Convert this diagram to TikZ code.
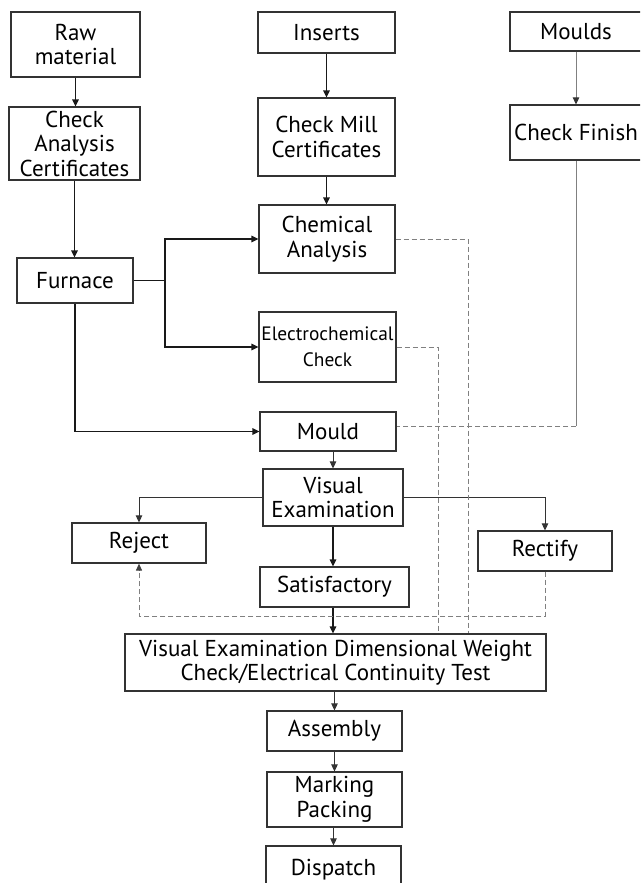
\documentclass[tikz,border=0pt]{standalone}
\usepackage{fontspec}
\setmainfont{PT Sans}
\usetikzlibrary{arrows.meta}
\begin{document}
\begin{tikzpicture}[x=1pt,y=-1pt,
  box/.style={draw=black!80, line width=1.2pt, align=center, inner sep=0pt, text=black, font=\fontsize{23}{24.5}\selectfont},
  arr/.style={line width=1.4pt, draw=black!90, -{Triangle[length=7pt,width=6.5pt]}},
  tarr/.style={line width=1pt, draw=black!80, -{Triangle[length=7pt,width=6.5pt]}},
  ln/.style={line width=1.4pt, draw=black!90},
  gline/.style={line width=1pt, draw=black!50},
  dsh/.style={line width=1pt, draw=black!50, dash pattern=on 5pt off 3pt},
  darr/.style={dsh, -{Triangle[length=7pt,width=6pt,color=black!75,fill=black!75]}}]
\clip (0,0) rectangle (640,883);
% left column
\node[box, minimum width=129pt, minimum height=65pt] (raw) at (75.5,44.5) {Raw\\material};
\node[box, minimum width=131pt, minimum height=73pt] (cac) at (74.5,143.5) {Check\\Analysis\\Certificates};
\node[box, minimum width=116pt, minimum height=45pt] (furnace) at (75,280.5) {Furnace};
% middle column
\node[box, minimum width=137pt, minimum height=41pt] (inserts) at (326.5,32.5) {Inserts};
\node[box, minimum width=137pt, minimum height=78pt] (cmc) at (326.5,137) {Check Mill\\Certificates};
\node[box, minimum width=136pt, minimum height=68pt] (chem) at (327,239) {Chemical\\Analysis};
\node[box, minimum width=137pt, minimum height=70pt, font=\fontsize{19.4}{26}\selectfont] (elec) at (327.5,347) {Electrochemical\\Check};
\node[box, minimum width=136pt, minimum height=39pt] (mould) at (328,431.5) {Mould};
\node[box, minimum width=140pt, minimum height=57pt] (vis) at (333,497.5) {Visual\\Examination};
\node[box, minimum width=149pt, minimum height=40pt] (sat) at (334.5,587) {Satisfactory};
\node[box, minimum width=421pt, minimum height=57pt] (vedw) at (335.5,662.5) {Visual Examination Dimensional Weight\\Check/Electrical Continuity Test};
\node[box, minimum width=135pt, minimum height=40pt] (asm) at (334.5,731) {Assembly};
\node[box, minimum width=135pt, minimum height=55pt] (mark) at (334.5,799.5) {Marking\\Packing};
\node[box, minimum width=135pt, minimum height=48pt] (disp) at (333.5,870) {Dispatch};
% right column
\node[box, minimum width=132pt, minimum height=39pt] (moulds) at (576,31.5) {Moulds};
\node[box, minimum width=132pt, minimum height=55pt] (cfin) at (576,132.5) {Check Finish};
\node[box, minimum width=134pt, minimum height=40pt] (reject) at (139,543) {Reject};
\node[box, minimum width=134pt, minimum height=40pt] (rectify) at (545,551) {Rectify};
% coordinates
\coordinate (jf) at (165,280.5);
\coordinate (cd) at (468,239);
\coordinate (ed) at (438,347);
\coordinate (mj) at (576,426);
\coordinate (lp) at (545,616);
% solid connectors
\draw[arr] (raw.south) -- (raw.south |- cac.north);
\draw[arr] (cac.south) -- (cac.south |- furnace.north);
\draw[arr] (inserts.south) -- (inserts.south |- cmc.north);
\draw[arr] (cmc.south) -- (cmc.south |- chem.north);
\draw[gline, -{Triangle[length=7pt,width=6.5pt,color=black!80,fill=black!80]}] (moulds.south) -- (moulds.south |- cfin.north);
\draw[ln] (furnace.east) -- (jf);
\draw[arr] (jf) |- (chem.west);
\draw[arr] (jf) |- (elec.west);
\draw[arr] (furnace.south) |- (mould.west);
\draw[tarr] (vis.north |- mould.south) -- (vis.north);
\draw[tarr] (vis.west) -| (reject.north);
\draw[tarr] (vis.east) -| (rectify.north);
\draw[arr] (vis.south) -- (vis.south |- sat.north);
\draw[arr] (vis.south |- sat.south) -- (vis.south |- vedw.north);
\draw[tarr] (asm.north |- vedw.south) -- (asm.north);
\draw[tarr] (asm.south) -- (asm.south |- mark.north);
\draw[tarr] (disp.north |- mark.south) -- (disp.north);
% grey / dashed connectors
\draw[gline] (cfin.south) -- (mj);
\draw[dsh] (mj) -- (mould.east |- mj);
\draw[dsh] (chem.east) -- (cd) -- (cd |- vedw.north);
\draw[dsh] (elec.east) -- (ed) -- (ed |- vedw.north);
\draw[darr] (rectify.south) -- (lp) -| (reject.south);
\end{tikzpicture}
\end{document}
